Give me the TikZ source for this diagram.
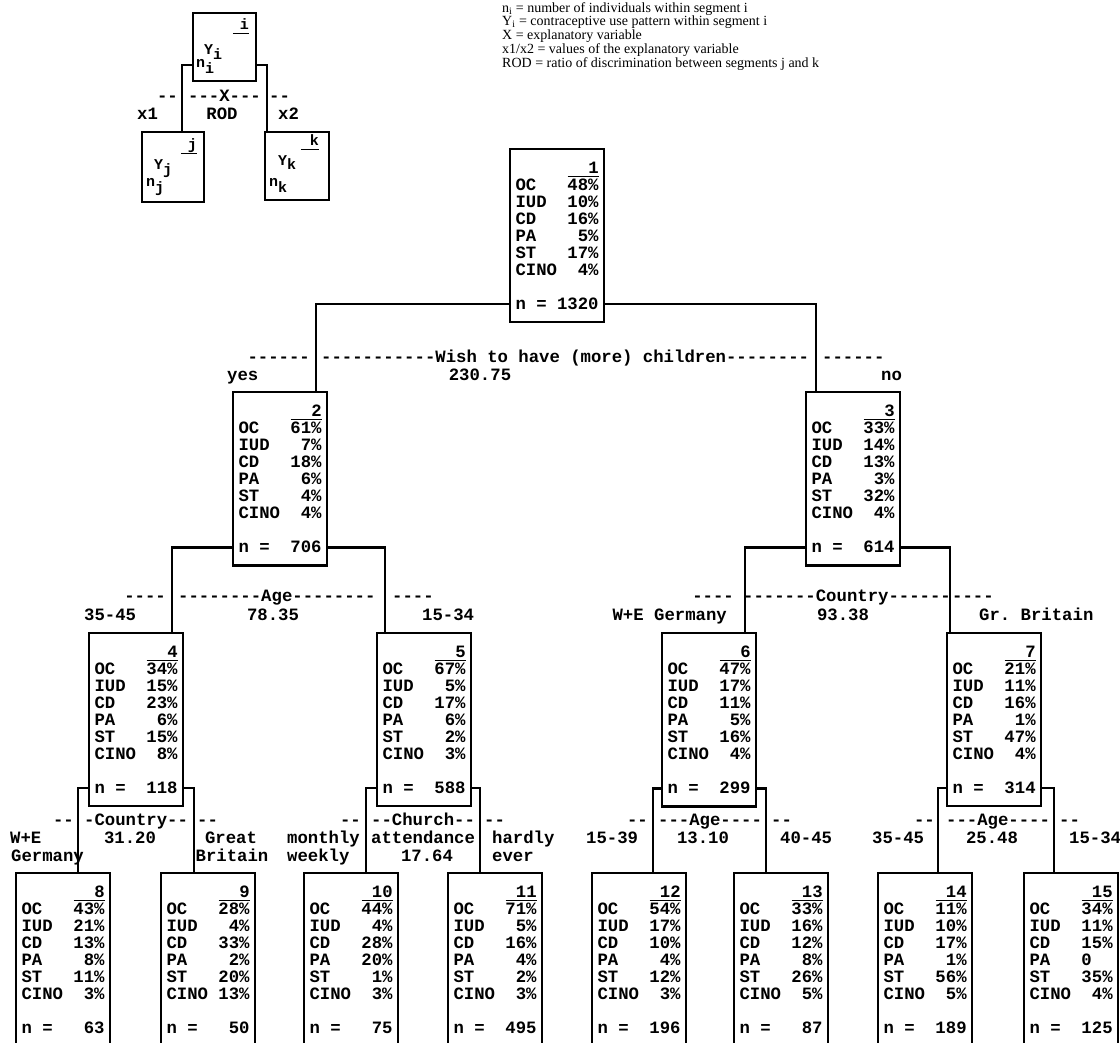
\documentclass[tikz,border=0pt]{standalone}
\usepackage{fontspec}
\setmainfont{Liberation Serif}
\newfontfamily\segfont{Liberation Mono}
\frenchspacing
% 一行：左边名称，右边百分比
\newcommand{\rw}[2]{\makebox[2.4em][l]{#1}\makebox[2.4em][r]{#2}}
% 节点内容：编号、六个百分比、n
\newcommand{\segtext}[8]{%
  \makebox[4.8em][r]{#1\llap{\rule[-4pt]{1.8em}{1.2pt}}}\\
  \rw{OC}{#2}\\\rw{IUD}{#3}\\\rw{CD}{#4}\\\rw{PA}{#5}\\
  \rw{ST}{#6}\\\rw{CINO}{#7}\\\mbox{}\\\rw{n =}{#8}}
\begin{document}
\begin{tikzpicture}[x=1pt, y=-1pt,
    seg/.style={draw, line width=2.2pt, anchor=north west, align=left,
      inner xsep=5.5pt, inner ysep=12.8pt,
      font=\segfont\bfseries\fontsize{17.3}{17}\selectfont},
    lab/.style={inner sep=0pt, font=\segfont\bfseries\fontsize{17.3}{17}\selectfont},
    keybox/.style={draw, line width=2.2pt, anchor=north west, inner sep=0pt},
    keytxt/.style={inner sep=0pt, font=\segfont\bfseries\fontsize{15}{15}\selectfont},
    conn/.style={line width=2.2pt}]
    \useasboundingbox (0,0) rectangle (1120,1043);

    % 图例
    \node[keybox, minimum width=63pt, minimum height=68pt] (ki) at (192,12) {};
    \node[keybox, minimum width=62pt, minimum height=70pt] (kj) at (141,131) {};
    \node[keybox, minimum width=64pt, minimum height=68pt] (kk) at (264,131) {};
    \node[keytxt, anchor=base east] (ki-t) at (249,30) {i\llap{\rule[-4pt]{16pt}{1.2pt}}};
    \node[keytxt, anchor=base west] (ki-y) at (204,55) {Y\raisebox{-5pt}{i}};
    \node[keytxt, anchor=base west] (ki-n) at (196,68) {n\raisebox{-6pt}{i}};
    \node[keytxt, anchor=base east] (kj-t) at (197,150) {j\llap{\rule[-4pt]{16pt}{1.2pt}}};
    \node[keytxt, anchor=base west] (kj-y) at (154,170) {Y\raisebox{-5pt}{j}};
    \node[keytxt, anchor=base west] (kj-n) at (146,187) {n\raisebox{-6pt}{j}};
    \node[keytxt, anchor=base east] (kk-t) at (319,146) {k\llap{\rule[-4pt]{18pt}{1.2pt}}};
    \node[keytxt, anchor=base west] (kk-y) at (278,166) {Y\raisebox{-4pt}{k}};
    \node[keytxt, anchor=base west] (kk-n) at (269,187) {n\raisebox{-6pt}{k}};
    \draw[conn] ([yshift=17pt]ki.south west) -| ([xshift=-10pt]ki.west |- kj.north);
    \draw[conn] ([yshift=17pt]ki.south east) -| ([xshift=10pt]ki.east |- kk.north);
    \node[lab, anchor=base east] (kd1) at (178,102) {--};
    \node[lab, anchor=base west] (kd2) at (188,102) {---X---};
    \node[lab, anchor=base west] (kd3) at (269,102) {--};
    \node[lab, anchor=base west] (kx1) at (137,120) {x1};
    \node[lab, anchor=base] (krod) at (222,120) {ROD};
    \node[lab, anchor=base west] (kx2) at (278,120) {x2};
    \node[anchor=north west, align=left, inner sep=0pt,
      font=\fontsize{14}{12.3}\selectfont] (notes) at (502,2)
      {n\textsubscript{i} = number of individuals within segment i\\
       Y\textsubscript{i} = contraceptive use pattern within segment i\\
       X = explanatory variable\\
       x1/x2 = values of the explanatory variable\\
       ROD = ratio of discrimination between segments j and k};

    % 节点
    \node[seg] (s1) at (509,148) {\segtext{1}{48\%}{10\%}{16\%}{5\%}{17\%}{4\%}{1320}};
    \node[seg] (s2) at (232,391) {\segtext{2}{61\%}{7\%}{18\%}{6\%}{4\%}{4\%}{706}};
    \node[seg] (s3) at (805,391) {\segtext{3}{33\%}{14\%}{13\%}{3\%}{32\%}{4\%}{614}};
    \node[seg] (s4) at (88,632) {\segtext{4}{34\%}{15\%}{23\%}{6\%}{15\%}{8\%}{118}};
    \node[seg] (s5) at (376,632) {\segtext{5}{67\%}{5\%}{17\%}{6\%}{2\%}{3\%}{588}};
    \node[seg] (s6) at (661,632) {\segtext{6}{47\%}{17\%}{11\%}{5\%}{16\%}{4\%}{299}};
    \node[seg] (s7) at (946,632) {\segtext{7}{21\%}{11\%}{16\%}{1\%}{47\%}{4\%}{314}};
    \node[seg] (s8) at (15,872) {\segtext{8}{43\%}{21\%}{13\%}{8\%}{11\%}{3\%}{63}};
    \node[seg] (s9) at (160,872) {\segtext{9}{28\%}{4\%}{33\%}{2\%}{20\%}{13\%}{50}};
    \node[seg] (s10) at (303,872) {\segtext{10}{44\%}{4\%}{28\%}{20\%}{1\%}{3\%}{75}};
    \node[seg] (s11) at (447,872) {\segtext{11}{71\%}{5\%}{16\%}{4\%}{2\%}{3\%}{495}};
    \node[seg] (s12) at (591,872) {\segtext{12}{54\%}{17\%}{10\%}{4\%}{12\%}{3\%}{196}};
    \node[seg] (s13) at (733,872) {\segtext{13}{33\%}{16\%}{12\%}{8\%}{26\%}{5\%}{87}};
    \node[seg] (s14) at (877,872) {\segtext{14}{11\%}{10\%}{17\%}{1\%}{56\%}{5\%}{189}};
    \node[seg] (s15) at (1023,872) {\segtext{15}{34\%}{11\%}{15\%}{0\phantom{00}}{35\%}{4\%}{125}};

    % 连线
    \draw[conn] ([yshift=19pt]s1.south west) -| ([xshift=-12pt]s2.north east);
    \draw[conn] ([yshift=19pt]s1.south east) -| ([xshift=11pt]s3.north west);
    \draw[conn] ([yshift=19pt]s2.south west) -| ([xshift=-12pt]s4.north east);
    \draw[conn] ([yshift=19pt]s2.south east) -| ([xshift=9pt]s5.north west);
    \draw[conn] ([yshift=19pt]s3.south west) -| ([xshift=-12pt]s6.north east);
    \draw[conn] ([yshift=19pt]s3.south east) -| ([xshift=4pt]s7.north west);
    \draw[conn] ([yshift=19pt]s4.south west) -| ([xshift=-10pt]s4.west |- s8.north);
    \draw[conn] ([yshift=19pt]s4.south east) -| ([xshift=10pt]s4.east |- s9.north);
    \draw[conn] ([yshift=19pt]s5.south west) -| ([xshift=-10pt]s5.west |- s10.north);
    \draw[conn] ([yshift=19pt]s5.south east) -| ([xshift=8pt]s5.east |- s11.north);
    \draw[conn] ([yshift=19pt]s6.south west) -| ([xshift=-8pt]s6.west |- s12.north);
    \draw[conn] ([yshift=19pt]s6.south east) -| ([xshift=9pt]s6.east |- s13.north);
    \draw[conn] ([yshift=19pt]s7.south west) -| ([xshift=-8pt]s7.west |- s14.north);
    \draw[conn] ([yshift=19pt]s7.south east) -| ([xshift=12pt]s7.east |- s15.north);

    % 第一层分割
    \node[lab, anchor=base east] (a1) at (310,362) {------};
    \node[lab, anchor=base west] (a2) at (321,362) {-----------Wish to have (more) children--------};
    \node[lab, anchor=base west] (a3) at (822,362) {------};
    \node[lab, anchor=base west] (a-yes) at (227,380) {yes};
    \node[lab, anchor=base] (a-rod) at (480,380) {230.75};
    \node[lab, anchor=base west] (a-no) at (881,380) {no};

    % 第二层分割（左）
    \node[lab, anchor=base east] (b1) at (166,601) {----};
    \node[lab, anchor=base west] (b2) at (178,601) {--------Age--------};
    \node[lab, anchor=base west] (b3) at (392,601) {----};
    \node[lab, anchor=base west] (b-l) at (84,620) {35-45};
    \node[lab, anchor=base] (b-rod) at (273,620) {78.35};
    \node[lab, anchor=base west] (b-r) at (422,620) {15-34};

    % 第二层分割（右）
    \node[lab, anchor=base east] (c1) at (734,601) {----};
    \node[lab, anchor=base west] (c2) at (743,601) {-------Country------};
    \node[lab, anchor=base west] (c3) at (952,601) {----};
    \node[lab, anchor=base east] (c-l) at (727,620) {W+E Germany};
    \node[lab, anchor=base] (c-rod) at (843,620) {93.38};
    \node[lab, anchor=base west] (c-r) at (979,620) {Gr. Britain};

    % 第三层分割
    \node[lab, anchor=base east] (d1) at (74,825) {--};
    \node[lab, anchor=base west] (d2) at (84,825) {-Country--};
    \node[lab, anchor=base west] (d3) at (197,825) {--};
    \node[lab, anchor=base west] (d-l1) at (10,843) {W+E};
    \node[lab, anchor=base west] (d-l2) at (11,861) {Germany};
    \node[lab, anchor=base] (d-rod) at (130,843) {31.20};
    \node[lab, anchor=base] (d-r1) at (231,843) {Great};
    \node[lab, anchor=base] (d-r2) at (232,861) {Britain};

    \node[lab, anchor=base east] (e1) at (361,825) {--};
    \node[lab, anchor=base west] (e2) at (371,825) {--Church--};
    \node[lab, anchor=base west] (e3) at (484,825) {--};
    \node[lab, anchor=base west] (e-l1) at (287,843) {monthly};
    \node[lab, anchor=base west] (e-l2) at (287,861) {weekly};
    \node[lab, anchor=base west] (e-v) at (371,843) {attendance};
    \node[lab, anchor=base] (e-rod) at (427,861) {17.64};
    \node[lab, anchor=base west] (e-r1) at (492,843) {hardly};
    \node[lab, anchor=base west] (e-r2) at (492,861) {ever};

    \node[lab, anchor=base east] (f1) at (648,825) {--};
    \node[lab, anchor=base west] (f2) at (658,825) {---Age----};
    \node[lab, anchor=base west] (f3) at (771,825) {--};
    \node[lab, anchor=base west] (f-l) at (586,843) {15-39};
    \node[lab, anchor=base] (f-rod) at (703,843) {13.10};
    \node[lab, anchor=base west] (f-r) at (780,843) {40-45};

    \node[lab, anchor=base east] (g1) at (935,825) {--};
    \node[lab, anchor=base west] (g2) at (946,825) {---Age----};
    \node[lab, anchor=base west] (g3) at (1059,825) {--};
    \node[lab, anchor=base west] (g-l) at (872,843) {35-45};
    \node[lab, anchor=base] (g-rod) at (992,843) {25.48};
    \node[lab, anchor=base west] (g-r) at (1069,843) {15-34};
\end{tikzpicture}
\end{document}
